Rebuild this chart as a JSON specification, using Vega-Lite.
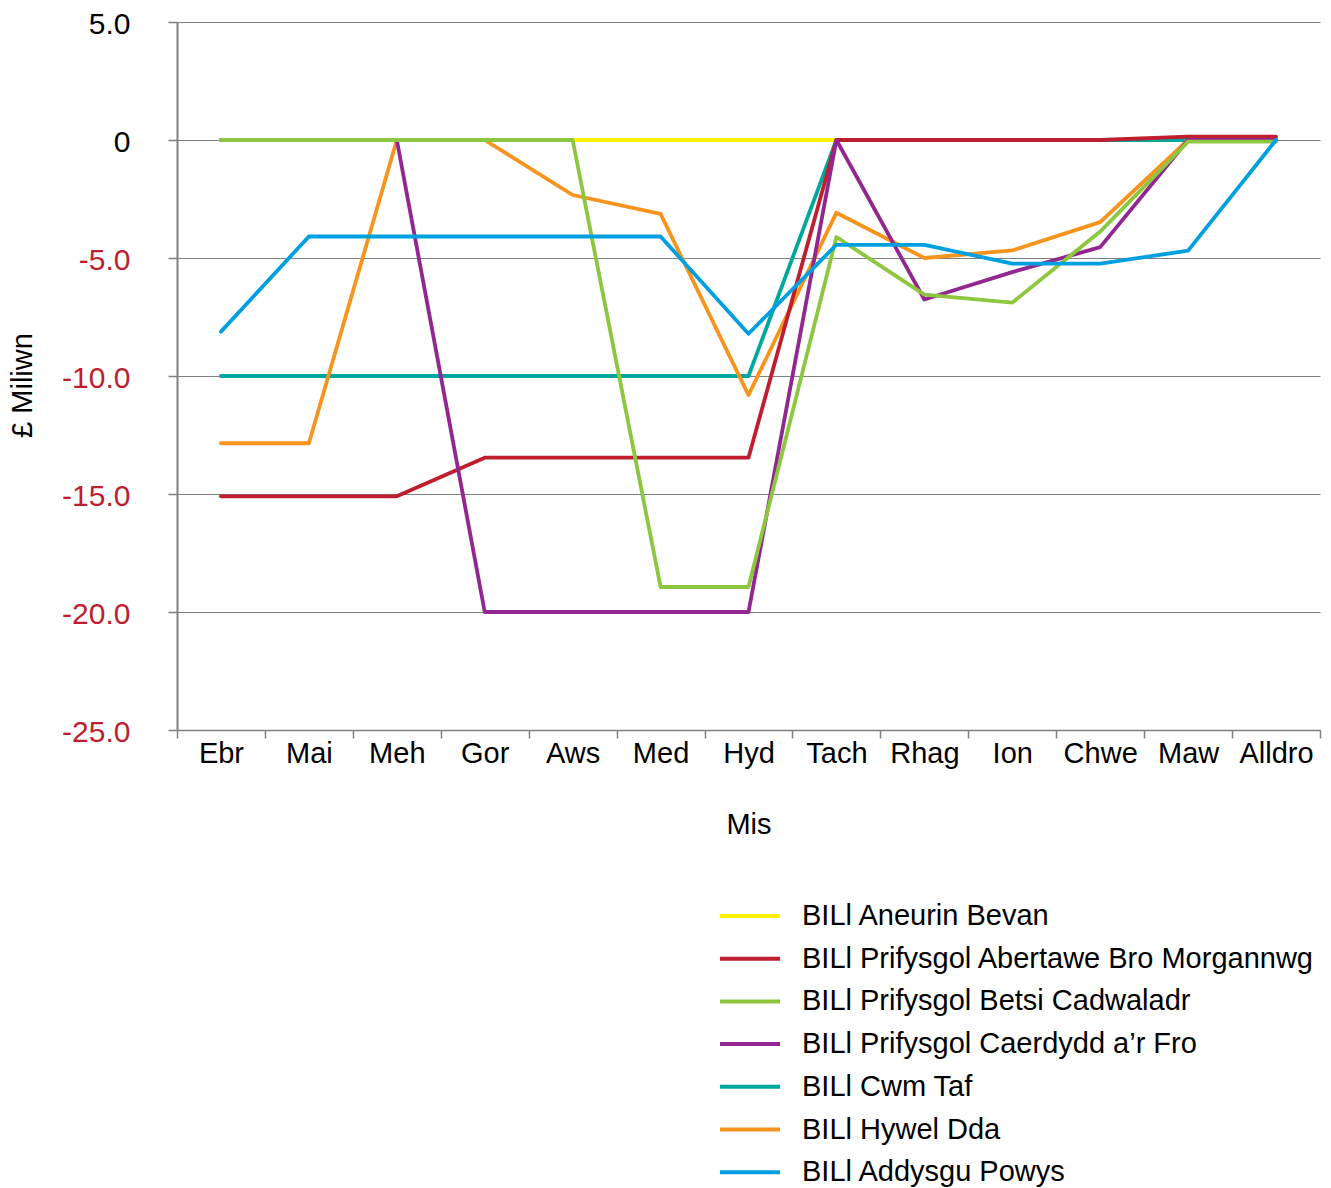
{
  "$schema": "https://vega.github.io/schema/vega-lite/v6.json",
  "autosize": "none",
  "padding": {"left": 177, "top": 22, "right": 11, "bottom": 458},
  "width": 1143,
  "height": 708,
  "background": "#ffffff",
  "config": {
    "view": {"stroke": null},
    "font": "Liberation Sans",
    "axis": {"labelFont": "Liberation Sans", "titleFont": "Liberation Sans"},
    "legend": {"labelFont": "Liberation Sans"}
  },
  "data": {
    "values": [
      {"m": "Ebr", "s": "BILl Aneurin Bevan", "v": 0},
      {"m": "Mai", "s": "BILl Aneurin Bevan", "v": 0},
      {"m": "Meh", "s": "BILl Aneurin Bevan", "v": 0},
      {"m": "Gor", "s": "BILl Aneurin Bevan", "v": 0},
      {"m": "Aws", "s": "BILl Aneurin Bevan", "v": 0},
      {"m": "Med", "s": "BILl Aneurin Bevan", "v": 0},
      {"m": "Hyd", "s": "BILl Aneurin Bevan", "v": 0},
      {"m": "Tach", "s": "BILl Aneurin Bevan", "v": 0},
      {"m": "Rhag", "s": "BILl Aneurin Bevan", "v": 0},
      {"m": "Ion", "s": "BILl Aneurin Bevan", "v": 0},
      {"m": "Chwe", "s": "BILl Aneurin Bevan", "v": 0},
      {"m": "Maw", "s": "BILl Aneurin Bevan", "v": 0},
      {"m": "Alldro", "s": "BILl Aneurin Bevan", "v": 0},

      {"m": "Ebr", "s": "BILl Cwm Taf", "v": -10.0},
      {"m": "Mai", "s": "BILl Cwm Taf", "v": -10.0},
      {"m": "Meh", "s": "BILl Cwm Taf", "v": -10.0},
      {"m": "Gor", "s": "BILl Cwm Taf", "v": -10.0},
      {"m": "Aws", "s": "BILl Cwm Taf", "v": -10.0},
      {"m": "Med", "s": "BILl Cwm Taf", "v": -10.0},
      {"m": "Hyd", "s": "BILl Cwm Taf", "v": -10.0},
      {"m": "Tach", "s": "BILl Cwm Taf", "v": 0},
      {"m": "Rhag", "s": "BILl Cwm Taf", "v": 0},
      {"m": "Ion", "s": "BILl Cwm Taf", "v": 0},
      {"m": "Chwe", "s": "BILl Cwm Taf", "v": 0},
      {"m": "Maw", "s": "BILl Cwm Taf", "v": 0},
      {"m": "Alldro", "s": "BILl Cwm Taf", "v": 0},

      {"m": "Ebr", "s": "BILl Hywel Dda", "v": -12.85},
      {"m": "Mai", "s": "BILl Hywel Dda", "v": -12.85},
      {"m": "Meh", "s": "BILl Hywel Dda", "v": 0},
      {"m": "Gor", "s": "BILl Hywel Dda", "v": 0},
      {"m": "Aws", "s": "BILl Hywel Dda", "v": -2.33},
      {"m": "Med", "s": "BILl Hywel Dda", "v": -3.13},
      {"m": "Hyd", "s": "BILl Hywel Dda", "v": -10.81},
      {"m": "Tach", "s": "BILl Hywel Dda", "v": -3.08},
      {"m": "Rhag", "s": "BILl Hywel Dda", "v": -5.0},
      {"m": "Ion", "s": "BILl Hywel Dda", "v": -4.68},
      {"m": "Chwe", "s": "BILl Hywel Dda", "v": -3.48},
      {"m": "Maw", "s": "BILl Hywel Dda", "v": 0},
      {"m": "Alldro", "s": "BILl Hywel Dda", "v": 0},

      {"m": "Ebr", "s": "BILl Prifysgol Abertawe Bro Morgannwg", "v": -15.1},
      {"m": "Mai", "s": "BILl Prifysgol Abertawe Bro Morgannwg", "v": -15.1},
      {"m": "Meh", "s": "BILl Prifysgol Abertawe Bro Morgannwg", "v": -15.1},
      {"m": "Gor", "s": "BILl Prifysgol Abertawe Bro Morgannwg", "v": -13.46},
      {"m": "Aws", "s": "BILl Prifysgol Abertawe Bro Morgannwg", "v": -13.46},
      {"m": "Med", "s": "BILl Prifysgol Abertawe Bro Morgannwg", "v": -13.46},
      {"m": "Hyd", "s": "BILl Prifysgol Abertawe Bro Morgannwg", "v": -13.46},
      {"m": "Tach", "s": "BILl Prifysgol Abertawe Bro Morgannwg", "v": 0},
      {"m": "Rhag", "s": "BILl Prifysgol Abertawe Bro Morgannwg", "v": 0},
      {"m": "Ion", "s": "BILl Prifysgol Abertawe Bro Morgannwg", "v": 0},
      {"m": "Chwe", "s": "BILl Prifysgol Abertawe Bro Morgannwg", "v": 0},
      {"m": "Maw", "s": "BILl Prifysgol Abertawe Bro Morgannwg", "v": 0.14},
      {"m": "Alldro", "s": "BILl Prifysgol Abertawe Bro Morgannwg", "v": 0.14},

      {"m": "Ebr", "s": "BILl Prifysgol Caerdydd a’r Fro", "v": 0},
      {"m": "Mai", "s": "BILl Prifysgol Caerdydd a’r Fro", "v": 0},
      {"m": "Meh", "s": "BILl Prifysgol Caerdydd a’r Fro", "v": 0},
      {"m": "Gor", "s": "BILl Prifysgol Caerdydd a’r Fro", "v": -20.0},
      {"m": "Aws", "s": "BILl Prifysgol Caerdydd a’r Fro", "v": -20.0},
      {"m": "Med", "s": "BILl Prifysgol Caerdydd a’r Fro", "v": -20.0},
      {"m": "Hyd", "s": "BILl Prifysgol Caerdydd a’r Fro", "v": -20.0},
      {"m": "Tach", "s": "BILl Prifysgol Caerdydd a’r Fro", "v": 0},
      {"m": "Rhag", "s": "BILl Prifysgol Caerdydd a’r Fro", "v": -6.76},
      {"m": "Ion", "s": "BILl Prifysgol Caerdydd a’r Fro", "v": -5.6},
      {"m": "Chwe", "s": "BILl Prifysgol Caerdydd a’r Fro", "v": -4.54},
      {"m": "Maw", "s": "BILl Prifysgol Caerdydd a’r Fro", "v": 0},
      {"m": "Alldro", "s": "BILl Prifysgol Caerdydd a’r Fro", "v": 0},

      {"m": "Ebr", "s": "BILl Prifysgol Betsi Cadwaladr", "v": 0},
      {"m": "Mai", "s": "BILl Prifysgol Betsi Cadwaladr", "v": 0},
      {"m": "Meh", "s": "BILl Prifysgol Betsi Cadwaladr", "v": 0},
      {"m": "Gor", "s": "BILl Prifysgol Betsi Cadwaladr", "v": 0},
      {"m": "Aws", "s": "BILl Prifysgol Betsi Cadwaladr", "v": 0},
      {"m": "Med", "s": "BILl Prifysgol Betsi Cadwaladr", "v": -18.94},
      {"m": "Hyd", "s": "BILl Prifysgol Betsi Cadwaladr", "v": -18.94},
      {"m": "Tach", "s": "BILl Prifysgol Betsi Cadwaladr", "v": -4.11},
      {"m": "Rhag", "s": "BILl Prifysgol Betsi Cadwaladr", "v": -6.55},
      {"m": "Ion", "s": "BILl Prifysgol Betsi Cadwaladr", "v": -6.89},
      {"m": "Chwe", "s": "BILl Prifysgol Betsi Cadwaladr", "v": -3.88},
      {"m": "Maw", "s": "BILl Prifysgol Betsi Cadwaladr", "v": -0.07},
      {"m": "Alldro", "s": "BILl Prifysgol Betsi Cadwaladr", "v": -0.07},

      {"m": "Ebr", "s": "BILl Addysgu Powys", "v": -8.12},
      {"m": "Mai", "s": "BILl Addysgu Powys", "v": -4.09},
      {"m": "Meh", "s": "BILl Addysgu Powys", "v": -4.09},
      {"m": "Gor", "s": "BILl Addysgu Powys", "v": -4.09},
      {"m": "Aws", "s": "BILl Addysgu Powys", "v": -4.09},
      {"m": "Med", "s": "BILl Addysgu Powys", "v": -4.09},
      {"m": "Hyd", "s": "BILl Addysgu Powys", "v": -8.21},
      {"m": "Tach", "s": "BILl Addysgu Powys", "v": -4.44},
      {"m": "Rhag", "s": "BILl Addysgu Powys", "v": -4.44},
      {"m": "Ion", "s": "BILl Addysgu Powys", "v": -5.24},
      {"m": "Chwe", "s": "BILl Addysgu Powys", "v": -5.24},
      {"m": "Maw", "s": "BILl Addysgu Powys", "v": -4.69},
      {"m": "Alldro", "s": "BILl Addysgu Powys", "v": 0}
    ]
  },
  "encoding": {
    "x": {
      "field": "m",
      "type": "nominal",
      "sort": ["Ebr", "Mai", "Meh", "Gor", "Aws", "Med", "Hyd", "Tach", "Rhag", "Ion", "Chwe", "Maw", "Alldro"],
      "bandPosition": 0.5,
      "scale": {"type": "band", "paddingInner": 0, "paddingOuter": 0},
      "axis": {
        "title": "Mis",
        "titleFontSize": 29,
        "titleFontWeight": "normal",
        "titleColor": "#000000",
        "titlePadding": 42,
        "labelAngle": 0,
        "labelFontSize": 29,
        "labelColor": "#000000",
        "labelPadding": 1,
        "tickBand": "extent",
        "tickSize": 8,
        "tickColor": "#808080",
        "tickWidth": 1.5,
        "domainColor": "#808080",
        "domainWidth": 1.5,
        "grid": false
      }
    },
    "y": {
      "field": "v",
      "type": "quantitative",
      "scale": {"domain": [-25, 5], "nice": false, "zero": false},
      "axis": {
        "title": "£ Miliwn",
        "titleFontSize": 29,
        "titleFontWeight": "normal",
        "titleColor": "#000000",
        "titlePadding": 24,
        "titleY": 363,
        "values": [-25, -20, -15, -10, -5, 0, 5],
        "labelExpr": "datum.value == 0 ? '0' : replace(format(datum.value, '.1f'), '\u2212', '-')",
        "labelColor": {"condition": {"test": "datum.value < 0", "value": "#be1e2d"}, "value": "#000000"},
        "labelFontSize": 30,
        "labelPadding": 38,
        "labelOffset": 2,
        "tickSize": 9,
        "tickColor": "#808080",
        "tickWidth": 1.5,
        "domainColor": "#808080",
        "domainWidth": 2,
        "grid": true,
        "gridColor": "#808080",
        "gridWidth": 1.2
      }
    },
    "color": {
      "field": "s",
      "type": "nominal",
      "scale": {
        "domain": ["BILl Aneurin Bevan", "BILl Prifysgol Abertawe Bro Morgannwg", "BILl Prifysgol Betsi Cadwaladr", "BILl Prifysgol Caerdydd a’r Fro", "BILl Cwm Taf", "BILl Hywel Dda", "BILl Addysgu Powys"],
        "range": ["#fff200", "#be1e2d", "#8dc63f", "#92278f", "#00a79d", "#f7941d", "#00a0e0"]
      },
      "legend": {
        "title": null,
        "orient": "none",
        "legendX": 541,
        "legendY": 874,
        "direction": "vertical",
        "padding": 0,
        "symbolType": "stroke",
        "symbolSize": 3600,
        "symbolStrokeWidth": 4,
        "clipHeight": 40,
        "rowPadding": 2.7,
        "labelOffset": 20,
        "labelFontSize": 29,
        "labelColor": "#000000",
        "labelLimit": 0
      }
    }
  },
  "layer": [
    {"transform": [{"filter": "datum.s == 'BILl Aneurin Bevan'"}], "mark": {"type": "line", "strokeWidth": 3.8, "strokeCap": "round", "strokeJoin": "round"}},
    {"transform": [{"filter": "datum.s == 'BILl Cwm Taf'"}], "mark": {"type": "line", "strokeWidth": 3.8, "strokeCap": "round", "strokeJoin": "round"}},
    {"transform": [{"filter": "datum.s == 'BILl Hywel Dda'"}], "mark": {"type": "line", "strokeWidth": 3.8, "strokeCap": "round", "strokeJoin": "round"}},
    {"transform": [{"filter": "datum.s == 'BILl Prifysgol Abertawe Bro Morgannwg'"}], "mark": {"type": "line", "strokeWidth": 3.8, "strokeCap": "round", "strokeJoin": "round"}},
    {"transform": [{"filter": "datum.s == 'BILl Prifysgol Caerdydd a’r Fro'"}], "mark": {"type": "line", "strokeWidth": 3.8, "strokeCap": "round", "strokeJoin": "round"}},
    {"transform": [{"filter": "datum.s == 'BILl Prifysgol Betsi Cadwaladr'"}], "mark": {"type": "line", "strokeWidth": 3.8, "strokeCap": "round", "strokeJoin": "round"}},
    {"transform": [{"filter": "datum.s == 'BILl Addysgu Powys'"}], "mark": {"type": "line", "strokeWidth": 3.8, "strokeCap": "round", "strokeJoin": "round"}}
  ]
}
